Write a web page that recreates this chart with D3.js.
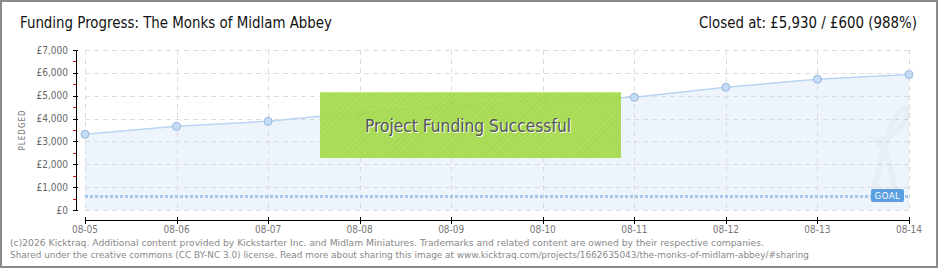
<!DOCTYPE html>
<html>
<head>
<meta charset="utf-8">
<script src="https://cdn.jsdelivr.net/npm/d3@7"></script>
<style>
  html, body { margin: 0; padding: 0; background: #fff; }
  svg { display: block; }
</style>
</head>
<body>
<svg id="chart" width="940" height="270"></svg>
<script>
// Daily pledge totals for the campaign
const dates = ["08-05", "08-06", "08-07", "08-08", "08-09", "08-10", "08-11", "08-12", "08-13", "08-14"];
const pledged = [3310, 3660, 3880, 4270, 4550, 4800, 4930, 5370, 5720, 5930];
const goal = 600;
const yTicks = [0, 1000, 2000, 3000, 4000, 5000, 6000, 7000];
const yMinorTicks = [500, 1500, 2500, 3500, 4500, 5500, 6500];

const titleText = "Funding Progress: The Monks of Midlam Abbey";
const closedText = "Closed at:  £5,930 /  £600 (988%)";
const bannerText = "Project Funding Successful";
const footer1 = "(c)2026 Kicktraq. Additional content provided by Kickstarter Inc. and Midlam Miniatures. Trademarks and related content are owned by their respective companies.";
const footer2 = "Shared under the creative commons (CC BY-NC 3.0) license. Read more about sharing this image at www.kicktraq.com/projects/1662635043/the-monks-of-midlam-abbey/#sharing";

const svg = d3.select("#chart");
const headFont = "'DejaVu Sans Condensed', 'Liberation Sans Narrow', sans-serif";
const smallFont = "'DejaVu Sans', Verdana, sans-serif";

const x = d3.scalePoint().domain(dates).range([85, 909]);
const y = d3.scaleLinear().domain([0, 7000]).range([210, 50]);

// hatch pattern for the success banner
const defs = svg.append("defs");
const pat = defs.append("pattern")
  .attr("id", "hatch").attr("width", 4).attr("height", 4)
  .attr("patternUnits", "userSpaceOnUse").attr("patternTransform", "rotate(45)");
pat.append("rect").attr("width", 4).attr("height", 4).attr("fill", "#a6dc4c");
pat.append("line").attr("x1", 0).attr("y1", 0).attr("x2", 0).attr("y2", 4)
  .attr("stroke", "#9ccf45").attr("stroke-width", 1.5);

// outer frame
svg.append("rect").attr("x", 1).attr("y", 1).attr("width", 936).attr("height", 266)
  .attr("fill", "#fff").attr("stroke", "#8a8a8a").attr("stroke-width", 2);

// header
svg.append("text").attr("x", 20).attr("y", 28)
  .attr("font-family", headFont).attr("font-size", 15).attr("fill", "#111")
  .attr("textLength", 312).attr("lengthAdjust", "spacingAndGlyphs")
  .text(titleText);
svg.append("text").attr("x", 917).attr("y", 28).attr("text-anchor", "end")
  .attr("font-family", headFont).attr("font-size", 15).attr("fill", "#111")
  .attr("textLength", 218).attr("lengthAdjust", "spacingAndGlyphs")
  .text(closedText);

// area under the pledge line
const area = d3.area().x((d, i) => x(dates[i])).y0(y(0)).y1(d => y(d));
svg.append("path").datum(pledged).attr("d", area).attr("fill", "#edf4fc");

// grid
const grid = svg.append("g").attr("stroke", "#dcdcdc").attr("stroke-dasharray", "5,4").attr("stroke-width", 1);
grid.selectAll("line.h").data(yTicks).join("line")
  .attr("x1", 85).attr("x2", 909)
  .attr("y1", d => Math.round(y(d)) + 0.5).attr("y2", d => Math.round(y(d)) + 0.5);
grid.selectAll("line.v").data(dates).join("line")
  .attr("x1", d => Math.round(x(d)) + 0.5).attr("x2", d => Math.round(x(d)) + 0.5)
  .attr("y1", y(7000)).attr("y2", y(0));

// faint watermark mark
svg.append("path")
  .attr("d", "M872,200 C878,170 885,140 895,118 C902,105 912,104 905,120 C898,134 884,140 876,140 C888,150 892,170 896,198")
  .attr("fill", "none").attr("stroke", "#000").attr("stroke-width", 6).attr("opacity", 0.025);

// goal line
svg.append("line").attr("x1", 85).attr("x2", 909)
  .attr("y1", Math.round(y(goal)) + 0.5).attr("y2", Math.round(y(goal)) + 0.5)
  .attr("stroke", "#a7c6ea").attr("stroke-width", 3).attr("stroke-dasharray", "3,2");

// pledge line and points
const line = d3.line().x((d, i) => x(dates[i])).y(d => y(d));
svg.append("path").datum(pledged).attr("d", line)
  .attr("fill", "none").attr("stroke", "#b9d5f2").attr("stroke-width", 1.5);
svg.append("g").selectAll("circle").data(pledged).join("circle")
  .attr("cx", (d, i) => x(dates[i])).attr("cy", d => y(d)).attr("r", 4)
  .attr("fill", "#c4dcf6").attr("stroke", "#98b6da").attr("stroke-width", 1);

// goal tag
const gx = 871, gy = Math.round(y(goal)) - 7;
svg.append("rect").attr("x", gx).attr("y", gy).attr("width", 33).attr("height", 13)
  .attr("rx", 2).attr("fill", "#5b9fe0");
svg.append("text").attr("x", gx + 16.5).attr("y", gy + 10).attr("text-anchor", "middle")
  .attr("font-family", headFont).attr("font-size", 9.5).attr("fill", "#fff")
  .attr("letter-spacing", 0.5).text("GOAL");

// y axis
const yAxis = svg.append("g");
yAxis.append("line").attr("x1", 76.5).attr("x2", 76.5).attr("y1", y(7000)).attr("y2", y(0))
  .attr("stroke", "#000").attr("stroke-width", 1);
yAxis.selectAll("line.major").data(yTicks).join("line")
  .attr("x1", 73).attr("x2", 78)
  .attr("y1", d => Math.round(y(d)) + 0.5).attr("y2", d => Math.round(y(d)) + 0.5)
  .attr("stroke", "#000");
yAxis.selectAll("line.minor").data(yMinorTicks).join("line")
  .attr("x1", 73).attr("x2", 76)
  .attr("y1", d => Math.round(y(d)) + 0.5).attr("y2", d => Math.round(y(d)) + 0.5)
  .attr("stroke", "#e01010");
const fmt = d3.format(",");
yAxis.selectAll("text").data(yTicks).join("text")
  .attr("x", 68).attr("y", d => y(d) + 3.5).attr("text-anchor", "end")
  .attr("font-family", headFont).attr("font-size", 10).attr("fill", "#666")
  .text(d => "£" + fmt(d));
svg.append("text").attr("transform", "translate(25,130) rotate(-90)")
  .attr("text-anchor", "middle").attr("font-family", headFont).attr("font-size", 8)
  .attr("letter-spacing", 1).attr("fill", "#777").text("PLEDGED");

// x axis
const xAxis = svg.append("g");
xAxis.append("line").attr("x1", 85).attr("x2", 910).attr("y1", 220.5).attr("y2", 220.5)
  .attr("stroke", "#000");
xAxis.selectAll("line.t").data(dates).join("line")
  .attr("x1", d => Math.round(x(d)) + 0.5).attr("x2", d => Math.round(x(d)) + 0.5)
  .attr("y1", 217).attr("y2", 224).attr("stroke", "#000");
xAxis.selectAll("text").data(dates).join("text")
  .attr("x", d => x(d)).attr("y", 233).attr("text-anchor", "middle")
  .attr("font-family", headFont).attr("font-size", 10).attr("fill", "#777")
  .text(d => d);

// success banner
svg.append("rect").attr("x", 320).attr("y", 92).attr("width", 301).attr("height", 66)
  .attr("fill", "url(#hatch)").attr("opacity", 0.92);
svg.append("rect").attr("x", 320).attr("y", 92).attr("width", 301).attr("height", 1)
  .attr("fill", "#c0ea7a");
svg.append("text").attr("x", 469).attr("y", 133).attr("text-anchor", "middle")
  .attr("font-family", headFont).attr("font-size", 17).attr("fill", "#fff")
  .attr("textLength", 206).attr("lengthAdjust", "spacingAndGlyphs")
  .text(bannerText);
svg.append("text").attr("x", 468).attr("y", 132).attr("text-anchor", "middle")
  .attr("font-family", headFont).attr("font-size", 17).attr("fill", "#555")
  .attr("textLength", 206).attr("lengthAdjust", "spacingAndGlyphs")
  .text(bannerText);

// footer
svg.append("text").attr("x", 10).attr("y", 246)
  .attr("font-family", smallFont).attr("font-size", 9).attr("fill", "#888")
  .attr("textLength", 754).attr("lengthAdjust", "spacingAndGlyphs").text(footer1);
svg.append("text").attr("x", 10).attr("y", 258)
  .attr("font-family", smallFont).attr("font-size", 9).attr("fill", "#888")
  .attr("textLength", 799).attr("lengthAdjust", "spacingAndGlyphs").text(footer2);
</script>
</body>
</html>
